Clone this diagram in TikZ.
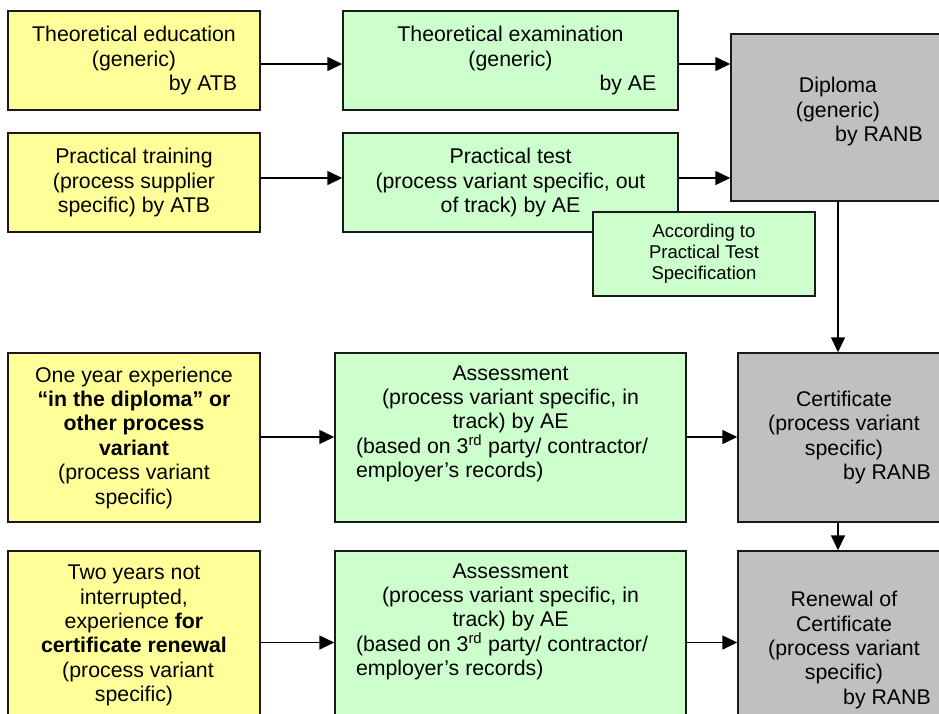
\documentclass[tikz,border=0pt]{standalone}
\usepackage{fontspec}
\setmainfont{Liberation Sans}
\usetikzlibrary{arrows.meta}
\definecolor{boxyellow}{RGB}{255,255,153}
\definecolor{boxgreen}{RGB}{204,255,204}
\definecolor{boxgrey}{RGB}{192,192,192}
\begin{document}
\begin{tikzpicture}[x=1pt,y=-1pt,every node/.style={draw=black!90,line width=1.5pt,align=center,inner sep=0pt,font=\fontsize{21.3}{24.4}\selectfont},
  yb/.style={fill=boxyellow,minimum width=252pt},
  gb/.style={fill=boxgreen},
  sb/.style={fill=boxgrey,minimum width=212pt},
  note/.style={font=\fontsize{18.5}{21}\selectfont},
  arr/.style={line width=1.6pt,-{Triangle[length=15pt,width=14pt]}}]
\path[use as bounding box,clip] (0,0) rectangle (939,713);
\node[yb,minimum height=99pt] (te) at (134,60.5) {Theoretical education\\(generic)\\\hspace*{138pt}by ATB};
\node[yb,minimum height=99pt] (pt) at (134,182.5) {Practical training\\(process supplier\\specific) by ATB};
\node[gb,minimum width=335pt,minimum height=99pt] (tx) at (510.5,60.5) {Theoretical examination\\(generic)\\\hspace*{235pt}by AE};
\node[gb,minimum width=335pt,minimum height=99pt] (ptest) at (510.5,182.5) {Practical test\\(process variant specific, out\\of track) by AE};
\node[gb,note,minimum width=222pt,minimum height=84pt] (spec) at (704,254) {According to\\Practical Test\\Specification};
\node[sb,minimum width=214pt,minimum height=167pt] (dip) at (838,117.5) {Diploma\\(generic)\\\hspace*{82pt}by RANB\\[-16pt]\strut};
\node[yb,minimum height=169pt] (oy) at (134,437.5) {One year experience\\\textbf{“in the diploma” or}\\\textbf{other process}\\\textbf{variant}\\(process variant\\specific)};
\node[gb,minimum width=351pt,minimum height=169pt] (as1) at (510.5,437.5) {Assessment\\(process variant specific, in\\track) by AE\\\makebox[309pt][l]{(based on 3\textsuperscript{rd} party/ contractor/}\\\makebox[309pt][l]{employer’s records)}\\\strut};
\node[sb,minimum height=169pt] (cert) at (844,437.5) {Certificate\\(process variant\\specific)\\\hspace*{86pt}by RANB};
\node[yb,minimum height=169pt] (ty) at (134,635.5) {Two years not\\interrupted,\\experience \textbf{for}\\\textbf{certificate renewal}\\\hspace*{8pt}(process variant\\specific)};
\node[gb,minimum width=351pt,minimum height=169pt] (as2) at (510.5,635.5) {Assessment\\(process variant specific, in\\track) by AE\\\makebox[309pt][l]{(based on 3\textsuperscript{rd} party/ contractor/}\\\makebox[309pt][l]{employer’s records)}\\\strut};
\node[sb,minimum height=198pt] (ren) at (844,650) {Renewal of\\Certificate\\(process variant\\specific)\\\hspace*{86pt}by RANB};
\foreach \u/\v/\dy in {te/tx/-3.5,tx/dip/-3.5,pt/ptest/4.5,ptest/dip/4.5,oy/as1/0.5,as1/cert/0.5,ty/as2/-7,as2/ren/-7}
  \draw[arr] ([yshift=\dy pt]\u.east) -- ([yshift=\dy pt]\u.east -| \v.west);
\draw[arr] (dip.south) -- (dip.south |- cert.north);
\draw[arr] (cert.south -| dip.south) -- (dip.south |- ren.north);
\end{tikzpicture}
\end{document}
